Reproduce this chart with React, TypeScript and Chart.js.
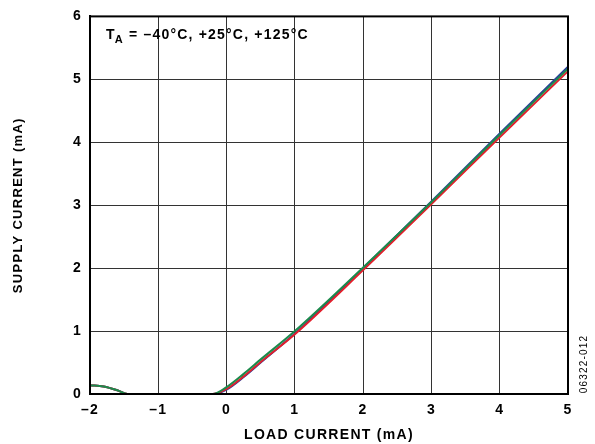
import React, { useEffect, useRef } from "react";
import { Chart, registerables } from "chart.js";
Chart.register(...registerables);

const xValues = [-2, -1.8, -1.6, -1.45, -1.0, -0.5, -0.2, 0, 0.25, 0.5, 1, 2, 3, 4, 5];
const blueSeries = [0.14, 0.12, 0.06, 0, 0, 0, 0, 0.07, 0.27, 0.5, 0.96, 2.0, 3.06, 4.14, 5.2];
const redSeries = [0.14, 0.12, 0.06, 0, 0, 0, 0, 0.08, 0.28, 0.51, 0.95, 1.97, 3.02, 4.08, 5.13];
const greenSeries = [0.14, 0.12, 0.06, 0, 0, 0, 0, 0.11, 0.32, 0.55, 1.0, 2.01, 3.05, 4.12, 5.17];
const xTicks = [-2, -1, 0, 1, 2, 3, 4, 5];
const yTicks = [0, 1, 2, 3, 4, 5, 6];

const FONT = "'Liberation Sans', Arial, sans-serif";
const fmt = (v: number) => (v < 0 ? "\u2013" + Math.abs(v) : String(v));

const spacingPlugin = {
  id: "spacing",
  beforeLayout(chart: any) {
    chart.ctx.letterSpacing = "1.3px";
  },
  beforeDraw(chart: any) {
    chart.ctx.letterSpacing = "1.3px";
  },
};

const textPlugin = {
  id: "texts",
  afterDraw(chart: any) {
    const ctx = chart.ctx;
    ctx.save();
    ctx.fillStyle = "#000";
    ctx.textBaseline = "alphabetic";
    ctx.textAlign = "left";
    ctx.letterSpacing = "1.2px";
    ctx.font = `bold 14px ${FONT}`;
    let x = 106;
    const y = 39;
    ctx.fillText("T", x, y);
    x += ctx.measureText("T").width - 1;
    ctx.font = `bold 11px ${FONT}`;
    ctx.fillText("A", x, y + 4);
    x += ctx.measureText("A").width;
    ctx.font = `bold 14px ${FONT}`;
    ctx.fillText(" = \u201340\u00B0C, +25\u00B0C, +125\u00B0C", x, y);
    // figure code
    ctx.font = `10px ${FONT}`;
    ctx.letterSpacing = "1.2px";
    ctx.translate(584, 364);
    ctx.rotate(-Math.PI / 2);
    ctx.textAlign = "center";
    ctx.textBaseline = "middle";
    ctx.fillText("06322-012", 0, 0);
    ctx.restore();
  },
};

export default function App() {
  const ref = useRef<HTMLCanvasElement>(null);
  useEffect(() => {
    const mk = (data: number[], color: string) => ({
      data: xValues.map((x, i) => ({ x, y: data[i] })),
      borderColor: color,
      borderWidth: 2,
      pointRadius: 0,
      cubicInterpolationMode: "monotone" as const,
      fill: false,
    });
    const chart = new Chart(ref.current!, {
      type: "line",
      data: {
        datasets: [
          mk(greenSeries, "#1c8a4c"),
          mk(redSeries, "#e2202c"),
          mk(blueSeries, "#2a3f9a"),
        ],
      },
      options: {
        animation: false,
        responsive: false,
        layout: { padding: { top: 13, right: 27, left: 0, bottom: 0 } },
        plugins: { legend: { display: false }, tooltip: { enabled: false } },
        scales: {
          x: {
            type: "linear",
            min: -2,
            max: 5,
            afterBuildTicks: (s: any) => {
              s.ticks = xTicks.map((v) => ({ value: v }));
            },
            afterFit: (s: any) => {
              s.height = 50;
            },
            ticks: {
              callback: (v: any) => fmt(Number(v)),
              color: "#000",
              font: { family: FONT, size: 14, weight: "bold" },
              padding: 8,
              maxRotation: 0,
            },
            grid: { color: "#333", lineWidth: 1, drawTicks: false, tickLength: 0 },
            border: { color: "#000", width: 2 },
            title: {
              display: true,
              text: "LOAD CURRENT (mA)",
              color: "#000",
              font: { family: FONT, size: 14, weight: "bold" },
              padding: { top: 3, bottom: 0 },
            },
          },
          y: {
            type: "linear",
            min: 0,
            max: 6,
            afterBuildTicks: (s: any) => {
              s.ticks = yTicks.map((v) => ({ value: v }));
            },
            afterFit: (s: any) => {
              s.width = 90;
            },
            ticks: {
              callback: (v: any) => fmt(Number(v)),
              color: "#000",
              font: { family: FONT, size: 14, weight: "bold" },
              padding: 8,
            },
            grid: { color: "#333", lineWidth: 1, drawTicks: false, tickLength: 0 },
            border: { color: "#000", width: 2 },
            title: {
              display: true,
              text: "SUPPLY CURRENT (mA)",
              color: "#000",
              font: { family: FONT, size: 13, weight: "bold" },
              padding: { top: 11, bottom: 0 },
            },
          },
        },
      },
      plugins: [
        spacingPlugin,
        textPlugin,
        {
          id: "frame",
          afterDatasetsDraw(c: any) {
            const { left, right, top, bottom } = c.chartArea;
            const ctx = c.ctx;
            ctx.save();
            ctx.strokeStyle = "#000";
            ctx.lineWidth = 2;
            ctx.strokeRect(left, top, right - left, bottom - top);
            ctx.restore();
          },
        },
      ],
    } as any);
    return () => chart.destroy();
  }, []);
  return (
    <div style={{ position: "fixed", left: 0, top: 0, width: 595, height: 444, background: "#fff" }}>
      <canvas ref={ref} width={595} height={444} style={{ display: "block" }} />
    </div>
  );
}
